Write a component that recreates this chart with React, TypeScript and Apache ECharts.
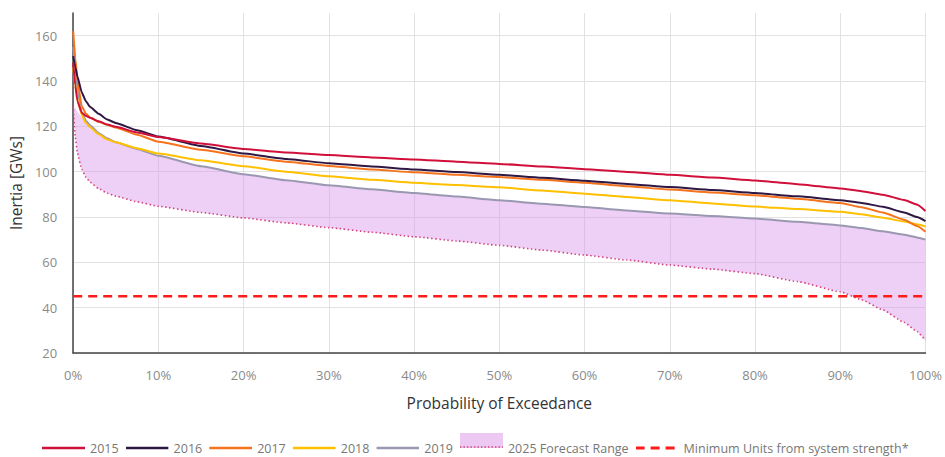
import React, { useEffect, useRef } from "react";
import * as echarts from "echarts";

// Probability of exceedance (%)
const probability = [0, 0.25, 0.5, 1, 1.5, 2, 3, 4, 5, 7.5, 10, 15, 20, 25, 30, 35, 40, 45, 50, 55, 60, 65, 70, 75, 80, 85, 90, 92.5, 95, 97.5, 99, 100];

const y2015 = [148, 138, 131, 126, 124.6, 123.8, 122.2, 120.8, 119.8, 117.3, 115.3, 112.4, 110, 108.5, 107.3, 106.3, 105.4, 104.4, 103.4, 102.3, 101.1, 99.9, 98.6, 97.4, 96.1, 94.5, 92.6, 91.4, 89.8, 87.5, 85.5, 82.6];
const y2016 = [151, 146, 142, 135, 131, 128.5, 125.5, 123, 121.5, 118.3, 115.5, 111.3, 108, 105.6, 103.7, 102.3, 101, 99.8, 98.6, 97.3, 96, 94.6, 93.2, 91.9, 90.6, 89.1, 87.4, 86.2, 84.5, 82, 80, 78.2];
const y2017 = [162, 150, 140, 129, 125.5, 123.8, 122, 120.6, 119.5, 116.3, 113.2, 109.7, 106.8, 104.4, 102.5, 101, 99.7, 98.6, 97.6, 96.4, 95.1, 93.6, 92.1, 90.8, 89.6, 88, 86.2, 84.3, 82, 78.8, 76, 73.5];
const y2018 = [146, 138, 132, 125, 121.5, 119.6, 116.5, 114.2, 113, 110.3, 108, 105, 102.4, 100, 98, 96.4, 95.1, 94.1, 93.1, 91.7, 90.3, 88.8, 87.4, 86, 84.6, 83.5, 82.3, 81.2, 79.7, 78, 76.8, 75.8];
const y2019 = [155, 145, 136, 126, 122.5, 120.4, 117, 114.7, 113, 110, 107, 102.4, 98.9, 96.2, 94, 92.2, 90.6, 89, 87.4, 85.9, 84.4, 82.9, 81.5, 80.4, 79.3, 77.9, 76.3, 75.1, 73.7, 72.2, 71, 70];

const forecastUpper = [129, 128, 126.5, 124, 122, 120.4, 117, 114.7, 113, 110, 107, 102.4, 98.9, 96.2, 94, 92.2, 90.6, 89, 87.4, 85.9, 84.4, 82.9, 81.5, 80.4, 79.3, 77.9, 76.3, 75.1, 73.7, 72.2, 71, 70];
const forecastLower = [129, 115, 108, 101, 97.5, 95.3, 92.5, 90.5, 89.2, 86.7, 84.7, 82, 79.6, 77.4, 75.3, 73.3, 71.3, 69.4, 67.5, 65.4, 63.2, 61, 58.8, 57, 55, 51.5, 47, 43.5, 39, 33.5, 29.5, 25.5];

const minUnits = 45;
const minUnitsX = [0, 100];

const yearNames = ["2015", "2016", "2017", "2018", "2019"];
const yearColors = ["#d0103a", "#2e1843", "#f5731c", "#ffc000", "#9a98b0"];
const forecastName = "2025 Forecast Range";
const minName = "Minimum Units from system strength*";

const svgIcon = (body: string) =>
  "image://data:image/svg+xml;charset=utf-8," +
  encodeURIComponent(
    `<svg xmlns="http://www.w3.org/2000/svg" width="43" height="30" viewBox="0 0 43 30">${body}</svg>`
  );

const lineIcon = (c: string) => svgIcon(`<line x1="0" y1="15" x2="43" y2="15" stroke="${c}" stroke-width="2.6"/>`);
const forecastIcon = svgIcon(
  `<rect x="0" y="0" width="43" height="15" fill="rgb(236,200,242)"/><line x1="0" y1="14" x2="43" y2="14" stroke="#d0457f" stroke-width="1.6" stroke-dasharray="1.5,2"/>`
);
const dashIcon = svgIcon(
  `<line x1="0" y1="15" x2="43" y2="15" stroke="#ff1a1a" stroke-width="3" stroke-dasharray="9,6"/>`
);

export default function App() {
  const ref = useRef<HTMLDivElement>(null);
  useEffect(() => {
    document.body.style.margin = "0";
    const chart = echarts.init(ref.current!, null, { renderer: "svg" });
    const font = "'Open Sans', 'Noto Sans', sans-serif";
    const pairs = (ys: number[]) => probability.map((x, i) => [x, ys[i]]);

    const yearSeries = yearNames.map((name, k) => ({
      name,
      type: "line",
      data: pairs([y2015, y2016, y2017, y2018, y2019][k]),
      smooth: 0.15,
      smoothMonotone: "x",
      showSymbol: false,
      symbol: "none",
      lineStyle: { color: yearColors[k], width: 2 },
      itemStyle: { color: yearColors[k] },
      z: 8 - k,
    }));

    chart.setOption({
      animation: false,
      textStyle: { fontFamily: font },
      grid: { left: 72, right: 19, top: 13, bottom: 104 },
      legend: {
        left: 42,
        top: 433,
        padding: 0,
        itemWidth: 43,
        itemHeight: 30,
        itemGap: 7,
        symbolKeepAspect: false,
        textStyle: { color: "#777", fontSize: 12.5, fontFamily: font },
        data: [
          ...yearNames.map((n, k) => ({ name: n, icon: lineIcon(yearColors[k]) })),
          { name: forecastName, icon: forecastIcon },
          { name: minName, icon: dashIcon },
        ],
      },
      xAxis: {
        type: "value",
        min: 0,
        max: 100,
        interval: 10,
        name: "Probability of Exceedance",
        nameLocation: "middle",
        nameGap: 42,
        nameTextStyle: { color: "#333", fontSize: 15.5, fontFamily: font },
        axisLine: { show: true, lineStyle: { color: "#444", width: 1.5 } },
        axisTick: { show: false },
        axisLabel: { color: "#8a8a8a", fontSize: 13, margin: 15, formatter: "{value}%" },
        splitLine: { show: true, lineStyle: { color: "#e2e2e2", width: 1 } },
      },
      yAxis: {
        type: "value",
        min: 20,
        max: 170,
        interval: 20,
        name: "Inertia [GWs]",
        nameLocation: "middle",
        nameGap: 44,
        nameTextStyle: { color: "#333", fontSize: 15.5, fontFamily: font },
        axisLine: { show: true, lineStyle: { color: "#444", width: 1.5 } },
        axisTick: { show: false },
        axisLabel: { color: "#8a8a8a", fontSize: 13, margin: 16, showMaxLabel: false },
        splitLine: { show: true, showMaxLine: false, lineStyle: { color: "#e2e2e2", width: 1 } },
      },
      series: [
        {
          name: forecastName,
          type: "custom",
          data: [[50, 80]],
          encode: { x: 0, y: 1 },
          z: 1,
          silent: true,
          itemStyle: { color: "rgb(236,200,242)" },
          renderItem: (params: any, api: any) => {
            if (params.dataIndex !== 0) return null;
            const top = probability.map((x, i) => api.coord([x, forecastUpper[i]]));
            const bottom = probability.map((x, i) => api.coord([x, forecastLower[i]])).reverse();
            return {
              type: "polygon",
              shape: { points: [...top, ...bottom] },
              style: { fill: "rgba(215,140,230,0.42)" },
            };
          },
        },
        {
          name: forecastName,
          type: "line",
          data: pairs(forecastLower),
          smooth: 0.15,
          smoothMonotone: "x",
          showSymbol: false,
          symbol: "none",
          lineStyle: { color: "#d0457f", width: 1.6, type: [1.5, 2.5] },
          itemStyle: { color: "#e0b0ea" },
          z: 2,
        },
        ...yearSeries,
        {
          name: minName,
          type: "line",
          data: minUnitsX.map((x) => [x, minUnits]),
          showSymbol: false,
          symbol: "none",
          lineStyle: { color: "#ff1a1a", width: 2.5, type: [9, 6] },
          itemStyle: { color: "#ff1a1a" },
          z: 9,
        },
      ],
    });
    return () => chart.dispose();
  }, []);
  return <div ref={ref} style={{ width: 945, height: 457 }} />;
}
